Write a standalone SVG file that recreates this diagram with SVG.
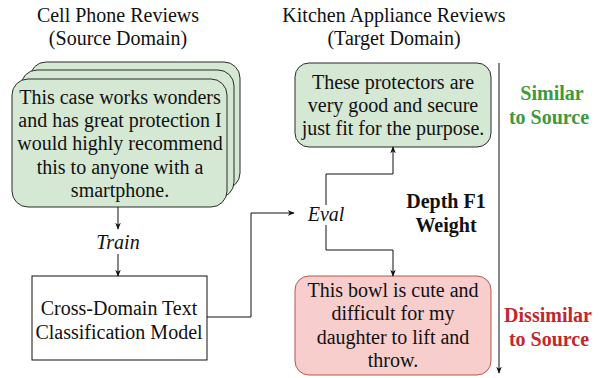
<svg xmlns="http://www.w3.org/2000/svg" width="601" height="378" viewBox="0 0 601 378">
<defs>
<style>
text{font-family:"Liberation Serif","Times New Roman",serif;font-size:20px;fill:#111;text-anchor:middle}
.it{font-style:italic}
.bd{font-weight:bold}
.g{fill:#d5e8d4;stroke:#2b2b2b;stroke-width:1}
.r{fill:#f8cecc;stroke:#b85450;stroke-width:1}
.box{fill:#fff;stroke:#111;stroke-width:1}
.ln{fill:none;stroke:#111;stroke-width:1}
</style>
<marker id="ah" viewBox="0 0 10 10" refX="9" refY="5" markerWidth="7" markerHeight="7" orient="auto" markerUnits="userSpaceOnUse">
<path d="M0,1 L10,5 L0,9 L3,5 Z" fill="#111"/>
</marker>
</defs>
<rect width="601" height="378" fill="#fff"/>
<g id="title-source">
<text x="118" y="22">Cell Phone Reviews</text>
<text x="118" y="45">(Source Domain)</text>
</g>
<g id="title-target">
<text x="394" y="22">Kitchen Appliance Reviews</text>
<text x="394" y="45">(Target Domain)</text>
</g>
<g id="source-reviews">
<rect class="g" x="30" y="62" width="210" height="127" rx="16"/>
<rect class="g" x="21" y="70" width="213" height="128" rx="16"/>
<rect class="g" x="12" y="79" width="215" height="128" rx="16"/>
<text x="120" y="104">This case works wonders</text>
<text x="120" y="127">and has great protection I</text>
<text x="120" y="150">would highly recommend</text>
<text x="120" y="174">this to anyone with a</text>
<text x="120" y="197">smartphone.</text>
</g>
<g id="model">
<rect class="box" x="32" y="276" width="175" height="84"/>
<text x="119" y="315">Cross-Domain Text</text>
<text x="119" y="339">Classification Model</text>
</g>
<g id="similar-review">
<rect class="g" x="295" y="63" width="196" height="84" rx="14"/>
<text x="393" y="89">These protectors are</text>
<text x="393" y="112">very good and secure</text>
<text x="393" y="135">just fit for the purpose.</text>
</g>
<g id="dissimilar-review">
<rect class="r" x="295" y="276" width="196" height="99" rx="14"/>
<text x="393" y="297">This bowl is cute and</text>
<text x="393" y="320">difficult for my</text>
<text x="393" y="344">daughter to lift and</text>
<text x="393" y="367">throw.</text>
</g>
<g id="labels">
<text class="it" x="118" y="249">Train</text>
<text class="it" x="326" y="221">Eval</text>
<text class="bd" x="446" y="208">Depth F1</text>
<text class="bd" x="446" y="232">Weight</text>
<text class="bd" x="552" y="100" style="fill:#3c9a3c">Similar</text>
<text class="bd" x="549" y="124" style="fill:#3c9a3c">to Source</text>
<text class="bd" x="548" y="322" style="fill:#c0282c">Dissimilar</text>
<text class="bd" x="549" y="346" style="fill:#c0282c">to Source</text>
</g>
<g id="connectors">
<path class="ln" d="M118,207 V229" marker-end="url(#ah)"/>
<path class="ln" d="M118,254 V276" marker-end="url(#ah)"/>
<path class="ln" d="M207,317 H251 V213 H294" marker-end="url(#ah)"/>
<path class="ln" d="M326,205 V174 H393 V147" marker-end="url(#ah)"/>
<path class="ln" d="M326,225 V250 H393 V276" marker-end="url(#ah)"/>
<path class="ln" d="M499,63 V373" marker-end="url(#ah)"/>
</g>
</svg>
